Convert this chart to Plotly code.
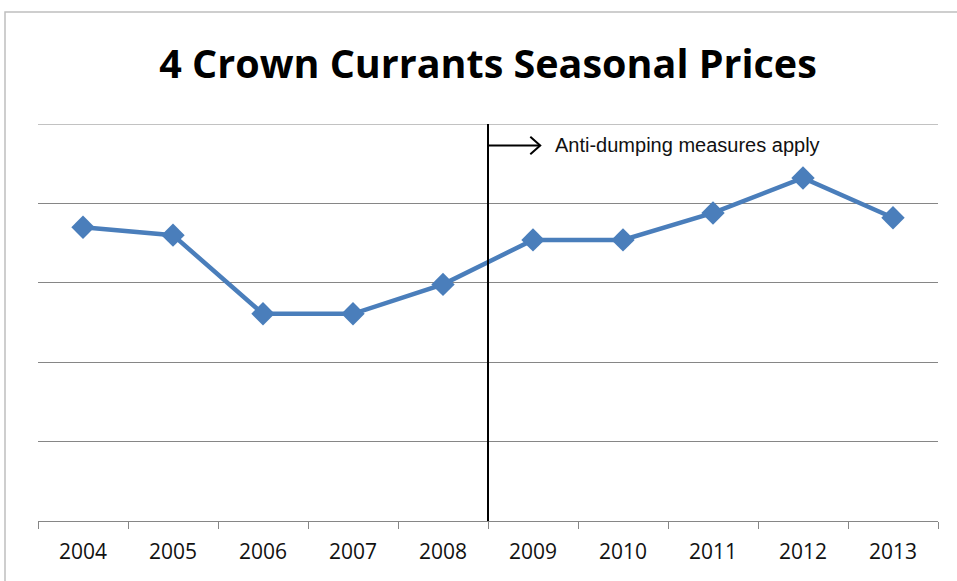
import plotly.graph_objects as go

years = ["2004", "2005", "2006", "2007", "2008", "2009", "2010", "2011", "2012", "2013"]
prices = [3.70, 3.60, 2.61, 2.61, 2.98, 3.54, 3.54, 3.88, 4.32, 3.82]
title_text = "4 Crown Currants Seasonal Prices"
note_text = "Anti-dumping measures apply"
boundary_pos = 4.5  # between 2008 and 2009
y_top = 5

fig = go.Figure()
fig.add_trace(go.Scatter(
    x=years, y=prices, mode="lines+markers",
    line=dict(color="#4a7ebb", width=4.5),
    marker=dict(symbol="diamond", size=18, color="#4a7ebb"),
    showlegend=False, hoverinfo="skip",
))

L, R, T, B = 38, 19, 124, 60
W, H = 957, 581
pw, ph = W - L - R, H - T - B

fig.update_layout(
    width=W, height=H,
    margin=dict(l=L, r=R, t=T, b=B),
    paper_bgcolor="white", plot_bgcolor="white",
    title=dict(text="<b>" + title_text + "</b>", x=488 / W, xanchor="center",
               y=1 - 64 / H, yanchor="middle",
               font=dict(family="Open Sans", size=39.5, color="black")),
    xaxis=dict(type="category", tickson="boundaries", ticks="outside", ticklen=7,
               tickcolor="#868686", showline=True, linecolor="#868686", linewidth=1,
               showgrid=False, tickfont=dict(family="Open Sans", size=21, color="#111111"),
               ticklabelstandoff=12,
               range=[-0.5, 9.5], fixedrange=True),
    yaxis=dict(range=[0, y_top], dtick=1, showticklabels=False, showgrid=True,
               gridcolor="#868686", gridwidth=1, zeroline=False, showline=False,
               ticks="", fixedrange=True),
)

# chart border
fig.add_shape(type="rect", xref="paper", yref="paper",
              x0=(5 - L) / pw, x1=(W + 10 - L) / pw,
              y0=-(B + 10) / ph, y1=(H - 12 - B) / ph,
              line=dict(color="#bfbfbf", width=1.5), layer="below")

# top gridline (at range edge)
fig.add_shape(type="line", xref="paper", yref="y", x0=0, x1=1, y0=y_top, y1=y_top,
              line=dict(color="#868686", width=1), layer="below")

# vertical divider
fig.add_shape(type="line", xref="x", yref="y", x0=boundary_pos, x1=boundary_pos,
              y0=0, y1=y_top, line=dict(color="black", width=2))

# arrow shaft + open chevron head
arrow_y = 4.73
tip = boundary_pos + 0.58
fig.add_shape(type="line", xref="x", yref="y", x0=boundary_pos, x1=tip,
              y0=arrow_y, y1=arrow_y, line=dict(color="black", width=2))
fig.add_shape(type="path", xref="x", yref="y",
              path=f"M {tip - 0.11} {arrow_y + 0.11} L {tip} {arrow_y} L {tip - 0.11} {arrow_y - 0.11}",
              line=dict(color="black", width=2))
fig.add_annotation(x=boundary_pos + 0.72, y=arrow_y, xref="x", yref="y",
                   text=note_text, showarrow=False, xanchor="left", yanchor="middle",
                   font=dict(family="Liberation Sans", size=20, color="#111111"))

fig.write_html("out.html")
